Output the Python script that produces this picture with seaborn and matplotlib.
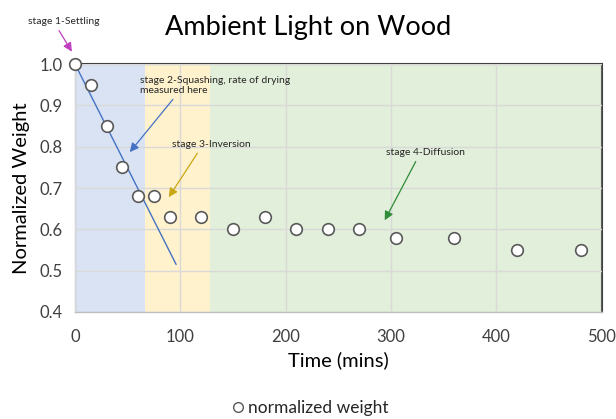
import matplotlib
matplotlib.use("Agg")
import matplotlib.pyplot as plt
import seaborn as sns
import pandas as pd

# Measurements
time_mins = [0, 15, 30, 45, 60, 75, 90, 120, 150, 180, 210, 240, 270, 305, 360, 420, 480]
norm_weight = [1.00, 0.95, 0.85, 0.75, 0.68, 0.68, 0.63, 0.63, 0.60, 0.63, 0.60, 0.60, 0.60,
               0.58, 0.58, 0.55, 0.55]

# Drying-rate fit line (stage 2)
fit_time = [0, 96]
fit_weight = [1.00, 0.515]

# Stage spans (minutes)
stage_edges = [0, 66, 128, 500]
stage_colors = ["#dae3f3", "#fff2cc", "#e2efda"]

sns.set_theme(style="white")
plt.rcParams["font.family"] = ["Lato", "DejaVu Sans"]

df = pd.DataFrame({"time": time_mins, "weight": norm_weight})

fig = plt.figure(figsize=(6.16, 4.19), dpi=100)
ax = fig.add_axes([0.1218, 0.2554, 0.855, 0.5916])

for (a, b), c in zip(zip(stage_edges[:-1], stage_edges[1:]), stage_colors):
    ax.axvspan(a, b, color=c, zorder=0, lw=0)

ax.set_xlim(0, 500)
ax.set_ylim(0.4, 1.0)
ax.set_xticks([0, 100, 200, 300, 400, 500])
ax.set_yticks([0.4, 0.5, 0.6, 0.7, 0.8, 0.9, 1.0])
ax.set_yticklabels(["0.4", "0.5", "0.6", "0.7", "0.8", "0.9", "1.0"])
ax.grid(True, color="#d9d9d9", lw=1.0, zorder=1)
ax.set_axisbelow(False)

sns.lineplot(x=fit_time, y=fit_weight, ax=ax, color="#4472c4", lw=1.0, zorder=3)
sns.scatterplot(data=df, x="time", y="weight", ax=ax, marker="o", s=70,
                facecolor="white", edgecolor="#595959", linewidth=1.2, zorder=4,
                label="normalized weight", clip_on=False, legend=False)

for side in ["left", "bottom"]:
    ax.spines[side].set_color("#bfbfbf")
    ax.spines[side].set_linewidth(1.0)
for side in ["top", "right"]:
    ax.spines[side].set_color("#404040")
    ax.spines[side].set_linewidth(1.5)

ax.tick_params(axis="x", labelsize=12, colors="#404040", length=0, pad=12)
ax.tick_params(axis="y", labelsize=12, colors="#404040", length=0, pad=9)

ax.set_xlabel("Time (mins)", fontsize=14.5, color="black", labelpad=5)
ax.set_ylabel("Normalized Weight", fontsize=14.5, color="black", labelpad=7)
fig.suptitle("Ambient Light on Wood", fontsize=19.5, x=0.5, y=0.965, color="black")

# Stage annotations
def note(text, xy, xytext, color, relpos=(0.5, 0.0)):
    ax.annotate(text, xy=xy, xytext=xytext, textcoords="data", fontsize=7.5,
                color="#262626", ha="left", va="bottom", annotation_clip=False,
                arrowprops=dict(arrowstyle="-|>,head_length=0.7,head_width=0.35",
                                color=color, lw=0.9, shrinkA=1, shrinkB=0,
                                relpos=relpos))

note("stage 1-Settling", (-3, 1.03), (-45, 1.092), "#c040c0", relpos=(0.4, 0.0))
note("stage 2-Squashing, rate of drying\nmeasured here", (52, 0.787), (62, 0.925), "#4472c4",
     relpos=(0.24, 0.0))
note("stage 3-Inversion", (89, 0.678), (92, 0.795), "#c9a814", relpos=(0.36, 0.0))
note("stage 4-Diffusion", (294, 0.622), (295, 0.775), "#2e8b37", relpos=(0.41, 0.0))

handle = plt.Line2D([], [], ls="none", marker="o", markersize=7,
                    markerfacecolor="white", markeredgecolor="#595959", markeredgewidth=1.0)
leg = fig.legend([handle], ["normalized weight"], loc="center", bbox_to_anchor=(0.5, 0.026),
                 frameon=False, fontsize=12.5, handletextpad=0.0, handlelength=1.2)
for t in leg.get_texts():
    t.set_color("#262626")

fig.savefig("out.png", dpi=100)
